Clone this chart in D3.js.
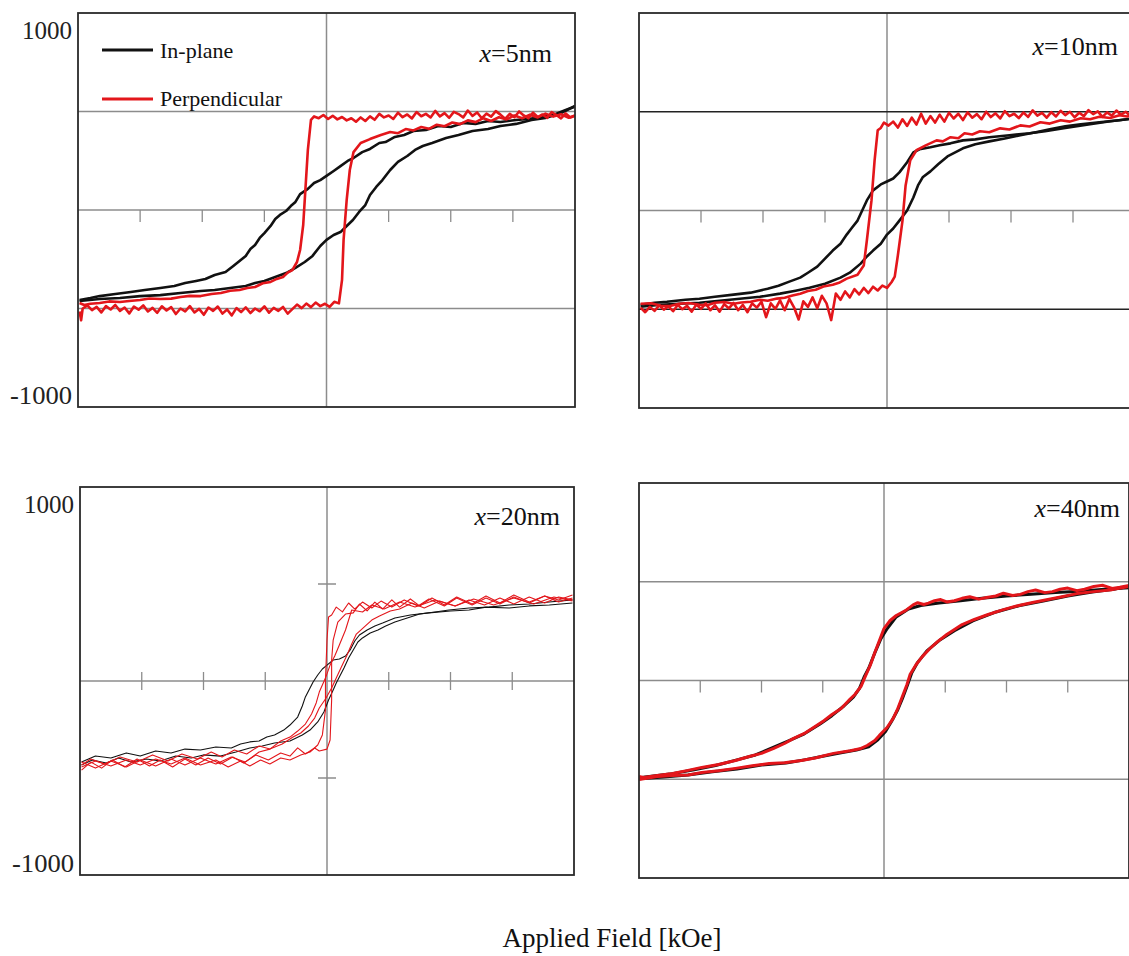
<!DOCTYPE html>
<html><head><meta charset="utf-8">
<script src="https://cdn.jsdelivr.net/npm/d3@7/dist/d3.min.js"></script>
<style>body{margin:0;background:#fff}svg{display:block}</style>
</head><body><svg id="c" width="1129" height="956"></svg>
<script>
// ---------- labels / ticks ----------
const panelLabels = ["=5nm", "=10nm", "=20nm", "=40nm"];
const yTickLabels = ["1000", "-1000"];
const legendLabels = ["In-plane", "Perpendicular"];
const xAxisTitle = "Applied Field [kOe]";
const xMinorTicks = [-6, -4, -2, 2, 4, 6];
const yGuides = [-500, 500];
const xDomain = [-8, 8];
const yDomain = [-1000, 1000];

// ---------- x = 5 nm ----------
const p1InDown = [[8.0,525],[7.7,508],[7.3,482],[6.9,472],[6.5,462],[6.1,457],[5.6,447],[5.2,452],[4.8,437],[4.4,442],[4.0,421],[3.6,426],[3.2,406],[2.8,401],[2.5,381],[2.2,371],[1.9,345],[1.7,340],[1.4,310],[1.15,294],[0.87,264],[0.68,249],[0.45,223],[0.23,198],[0,173],[-0.2,152],[-0.4,137],[-0.6,107],[-0.85,81],[-1.0,41],[-1.15,20],[-1.3,-5],[-1.5,-25],[-1.65,-46],[-1.8,-81],[-2.0,-117],[-2.15,-142],[-2.3,-178],[-2.45,-198],[-2.6,-233],[-2.8,-259],[-3.0,-284],[-3.25,-315],[-3.6,-330],[-3.9,-350],[-4.2,-360],[-4.55,-371],[-4.9,-386],[-5.35,-396],[-5.85,-406],[-6.3,-416],[-6.8,-426],[-7.3,-437],[-7.6,-447],[-7.95,-457]];
const p1InUp = [[-7.95,-462],[-7.3,-452],[-6.65,-447],[-6.0,-437],[-5.35,-432],[-4.7,-421],[-4.05,-411],[-3.6,-406],[-3.1,-396],[-2.6,-386],[-2.3,-371],[-2.0,-360],[-1.65,-340],[-1.3,-320],[-1.0,-294],[-0.7,-264],[-0.45,-233],[-0.2,-183],[0,-152],[0.23,-127],[0.45,-112],[0.65,-81],[0.85,-51],[1.05,-10],[1.25,25],[1.4,76],[1.6,117],[1.8,152],[2.05,203],[2.3,244],[2.6,274],[2.85,305],[3.1,325],[3.4,340],[3.85,365],[4.25,381],[4.7,401],[5.2,411],[5.6,426],[6.1,437],[6.6,457],[7.05,467],[7.55,492],[8.0,528]];
const p1PerpDown = [[8.0,478],[7.85,470],[7.7,490],[7.55,465],[7.4,482],[7.25,497],[7.1,468],[6.95,485],[6.8,472],[6.65,494],[6.5,466],[6.35,480],[6.2,500],[6.05,471],[5.9,488],[5.75,463],[5.6,484],[5.45,502],[5.3,474],[5.15,489],[5.0,466],[4.85,495],[4.7,478],[4.55,505],[4.4,470],[4.25,487],[4.1,498],[3.95,468],[3.8,492],[3.65,475],[3.5,503],[3.35,470],[3.2,488],[3.05,476],[2.9,497],[2.75,465],[2.6,485],[2.45,471],[2.3,494],[2.15,462],[2.0,480],[1.85,470],[1.7,488],[1.55,458],[1.4,475],[1.25,452],[1.1,470],[0.95,448],[0.8,466],[0.65,455],[0.5,472],[0.35,460],[0.2,478],[0.05,462],[-0.1,482],[-0.25,466],[-0.4,475],[-0.5,458],[-0.6,305],[-0.68,102],[-0.75,-76],[-0.85,-203],[-0.95,-264],[-1.1,-305],[-1.25,-318],[-1.4,-340],[-1.6,-350],[-1.8,-365],[-2.05,-372],[-2.3,-391],[-2.55,-396],[-2.8,-406],[-3.1,-410],[-3.4,-421],[-3.7,-426],[-4.05,-437],[-4.4,-436],[-4.7,-442],[-5.0,-450],[-5.35,-452],[-5.7,-449],[-6.0,-457],[-6.35,-462],[-6.65,-467],[-7.0,-464],[-7.3,-472],[-7.6,-476],[-7.8,-482],[-7.95,-472]];
const p1PerpUp = [[-7.95,-515],[-7.9,-560],[-7.85,-500],[-7.7,-485],[-7.55,-508],[-7.4,-492],[-7.25,-520],[-7.1,-488],[-6.95,-505],[-6.8,-482],[-6.65,-512],[-6.5,-495],[-6.35,-525],[-6.2,-490],[-6.05,-506],[-5.9,-484],[-5.75,-515],[-5.6,-497],[-5.45,-522],[-5.3,-489],[-5.15,-510],[-5.0,-493],[-4.85,-528],[-4.7,-500],[-4.55,-515],[-4.4,-488],[-4.25,-520],[-4.1,-502],[-3.95,-532],[-3.8,-495],[-3.65,-512],[-3.5,-490],[-3.35,-526],[-3.2,-505],[-3.05,-535],[-2.9,-498],[-2.75,-518],[-2.6,-494],[-2.45,-523],[-2.3,-500],[-2.15,-514],[-2.0,-489],[-1.85,-521],[-1.7,-497],[-1.55,-512],[-1.4,-492],[-1.25,-526],[-1.1,-503],[-0.95,-480],[-0.8,-498],[-0.65,-475],[-0.5,-493],[-0.35,-470],[-0.2,-488],[-0.05,-476],[0.1,-492],[0.25,-466],[0.4,-474],[0.5,-355],[0.55,-152],[0.65,51],[0.75,203],[0.87,294],[1.1,340],[1.4,360],[1.75,381],[2.05,396],[2.3,390],[2.55,411],[2.8,404],[3.05,421],[3.3,412],[3.55,433],[3.8,425],[4.05,444],[4.3,436],[4.55,455],[4.8,446],[5.05,466],[5.3,452],[5.55,471],[5.8,460],[6.05,480],[6.3,466],[6.55,484],[6.8,470],[7.05,489],[7.3,474],[7.55,486],[7.8,468],[8.0,480]];

// ---------- x = 10 nm ----------
const p2InDown = [[8.0,467],[7.2,452],[6.55,437],[5.7,416],[5.1,401],[4.6,391],[3.95,381],[3.3,371],[2.85,360],[2.45,355],[2.05,340],[1.7,330],[1.4,320],[1.05,310],[0.85,294],[0.65,244],[0.4,193],[0.2,162],[0,147],[-0.2,132],[-0.45,102],[-0.65,51],[-0.8,0],[-0.95,-51],[-1.15,-91],[-1.3,-122],[-1.5,-168],[-1.75,-203],[-2.0,-244],[-2.25,-284],[-2.55,-315],[-2.8,-340],[-3.15,-360],[-3.5,-381],[-3.85,-396],[-4.4,-416],[-4.95,-426],[-5.55,-437],[-6.05,-447],[-6.5,-452],[-7.1,-462],[-7.5,-467],[-7.95,-477]];
const p2InUp = [[-7.95,-487],[-7.3,-477],[-6.7,-472],[-6.05,-467],[-5.4,-457],[-4.75,-447],[-4.1,-437],[-3.45,-421],[-2.95,-406],[-2.5,-391],[-2.0,-371],[-1.5,-340],[-1.2,-315],[-0.85,-269],[-0.65,-233],[-0.45,-203],[-0.2,-168],[0,-122],[0.2,-91],[0.4,-51],[0.65,0],[0.85,66],[1.0,127],[1.15,168],[1.4,198],[1.65,234],[1.95,274],[2.2,294],[2.45,315],[2.85,335],[3.3,350],[3.8,365],[4.3,381],[4.8,396],[5.25,411],[5.75,426],[6.25,437],[6.85,447],[7.5,457],[8.0,467]];
const p2PerpDown = [[8.0,492],[7.85,478],[7.7,500],[7.55,485],[7.4,506],[7.25,480],[7.1,497],[6.95,474],[6.8,502],[6.65,488],[6.5,508],[6.35,478],[6.2,495],[6.05,472],[5.9,500],[5.75,483],[5.6,505],[5.45,476],[5.3,498],[5.15,470],[5.0,494],[4.85,480],[4.7,507],[4.55,474],[4.4,496],[4.25,468],[4.1,490],[3.95,478],[3.8,503],[3.65,466],[3.5,492],[3.35,473],[3.2,500],[3.05,462],[2.9,488],[2.75,470],[2.6,497],[2.45,458],[2.3,490],[2.15,466],[2.0,495],[1.85,450],[1.7,485],[1.55,445],[1.4,478],[1.25,440],[1.1,490],[0.95,435],[0.8,470],[0.65,428],[0.5,462],[0.35,420],[0.2,450],[0.05,430],[-0.1,445],[-0.2,418],[-0.3,406],[-0.4,254],[-0.5,51],[-0.65,-152],[-0.75,-279],[-0.95,-325],[-1.3,-345],[-1.55,-366],[-1.75,-376],[-2.05,-385],[-2.3,-401],[-2.55,-408],[-2.8,-421],[-3.05,-430],[-3.3,-442],[-3.55,-446],[-3.85,-457],[-4.1,-452],[-4.4,-462],[-4.7,-466],[-4.95,-472],[-5.25,-463],[-5.55,-467],[-5.8,-480],[-6.05,-477],[-6.4,-468],[-6.7,-472],[-7.0,-484],[-7.3,-482],[-7.6,-470],[-7.95,-472]];
const p2PerpUp = [[-7.95,-492],[-7.8,-515],[-7.65,-488],[-7.5,-508],[-7.35,-480],[-7.2,-502],[-7.05,-485],[-6.9,-510],[-6.75,-478],[-6.6,-500],[-6.45,-483],[-6.3,-512],[-6.15,-476],[-6.0,-498],[-5.85,-470],[-5.7,-505],[-5.55,-480],[-5.4,-512],[-5.25,-474],[-5.1,-496],[-4.95,-468],[-4.8,-505],[-4.65,-478],[-4.5,-515],[-4.35,-470],[-4.2,-492],[-4.05,-462],[-3.9,-540],[-3.75,-470],[-3.6,-498],[-3.45,-455],[-3.3,-505],[-3.15,-448],[-3.0,-490],[-2.85,-552],[-2.7,-460],[-2.55,-488],[-2.4,-440],[-2.25,-495],[-2.1,-432],[-1.95,-470],[-1.8,-555],[-1.65,-420],[-1.5,-452],[-1.35,-410],[-1.2,-440],[-1.05,-398],[-0.9,-425],[-0.75,-392],[-0.6,-418],[-0.45,-386],[-0.3,-405],[-0.15,-380],[0,-392],[0.15,-362],[0.25,-335],[0.35,-228],[0.5,-51],[0.6,127],[0.75,254],[0.95,305],[1.25,330],[1.6,355],[1.8,350],[2.05,371],[2.3,366],[2.5,391],[2.75,385],[3.0,401],[3.3,396],[3.65,416],[3.95,410],[4.3,431],[4.6,425],[4.95,447],[5.25,440],[5.6,457],[5.9,450],[6.25,467],[6.55,462],[6.85,475],[7.2,468],[7.5,482],[7.75,476],[8.0,487]];

// ---------- x = 20 nm ----------
const p3InDown = [[7.95,402],[7.2,392],[6.55,387],[5.9,376],[5.15,381],[4.6,366],[4.0,361],[3.3,351],[2.7,340],[2.2,325],[1.8,299],[1.55,284],[1.3,263],[1.05,237],[0.9,206],[0.75,160],[0.6,129],[0.4,113],[0.2,108],[0,82],[-0.15,62],[-0.3,31],[-0.45,-5],[-0.55,-36],[-0.7,-82],[-0.8,-129],[-0.95,-186],[-1.2,-227],[-1.4,-253],[-1.7,-278],[-1.95,-289],[-2.2,-309],[-2.5,-314],[-2.8,-325],[-3.1,-345],[-3.6,-340],[-4.1,-356],[-4.6,-351],[-5.05,-371],[-5.55,-361],[-6.05,-387],[-6.5,-371],[-7.0,-397],[-7.5,-387],[-7.95,-418]];
const p3InUp = [[-7.95,-433],[-7.6,-407],[-7.15,-423],[-6.75,-397],[-6.35,-418],[-5.85,-402],[-5.4,-412],[-4.9,-387],[-4.4,-397],[-4.0,-381],[-3.45,-387],[-2.95,-366],[-2.5,-345],[-2.1,-335],[-1.7,-320],[-1.2,-309],[-0.8,-278],[-0.55,-253],[-0.3,-211],[-0.1,-160],[0.05,-98],[0.2,-46],[0.3,-10],[0.4,21],[0.55,67],[0.7,119],[0.85,160],[1.0,201],[1.15,222],[1.4,247],[1.65,263],[1.9,284],[2.2,304],[2.6,325],[3.0,345],[3.5,356],[3.95,366],[4.6,376],[5.25,381],[5.9,392],[6.55,397],[7.2,407],[7.95,418]];
const p3PerpADown = [[7.95,428],[7.5,407],[7.05,438],[6.55,402],[6.05,433],[5.6,397],[5.15,428],[4.7,392],[4.2,428],[3.8,387],[3.3,423],[2.95,387],[2.5,418],[2.1,381],[1.75,412],[1.45,376],[1.15,407],[0.9,371],[0.7,402],[0.5,356],[0.3,381],[0.15,340],[0.05,330],[0,211],[-0.05,5],[-0.05,-150],[-0.15,-278],[-0.3,-330],[-0.55,-366],[-0.85,-381],[-1.2,-407],[-1.5,-397],[-1.85,-428],[-2.15,-407],[-2.5,-438],[-2.8,-412],[-3.2,-443],[-3.6,-407],[-4.1,-433],[-4.6,-397],[-5.05,-428],[-5.55,-402],[-6.05,-433],[-6.5,-407],[-7.0,-438],[-7.5,-412],[-7.95,-443]];
const p3PerpAUp = [[-7.95,-459],[-7.65,-418],[-7.3,-449],[-6.95,-407],[-6.55,-443],[-6.15,-402],[-5.75,-438],[-5.4,-407],[-5.0,-443],[-4.6,-402],[-4.25,-433],[-3.85,-397],[-3.45,-428],[-3.05,-392],[-2.7,-423],[-2.3,-381],[-1.9,-407],[-1.5,-371],[-1.2,-387],[-0.95,-345],[-0.7,-376],[-0.4,-345],[-0.25,-361],[0,-351],[0.1,-304],[0.15,-98],[0.15,108],[0.2,211],[0.35,304],[0.6,345],[0.85,351],[1.05,397],[1.3,361],[1.55,407],[1.8,371],[2.1,418],[2.35,381],[2.7,423],[3.0,387],[3.4,428],[3.8,392],[4.2,433],[4.7,397],[5.15,438],[5.6,402],[6.05,443],[6.55,407],[7.05,438],[7.5,418],[7.95,443]];
const p3PerpBDown = [[7.95,412],[7.35,433],[6.7,397],[6.05,428],[5.4,392],[4.75,423],[4.15,387],[3.5,418],[2.85,381],[2.35,407],[1.85,371],[1.45,392],[1.15,356],[0.8,366],[0.6,263],[0.4,186],[0.25,129],[0.1,82],[-0.05,15],[-0.25,-57],[-0.35,-113],[-0.5,-170],[-0.7,-222],[-0.95,-258],[-1.2,-289],[-1.5,-309],[-1.85,-351],[-2.2,-335],[-2.6,-376],[-3.0,-356],[-3.4,-392],[-3.75,-366],[-4.2,-402],[-4.7,-376],[-5.15,-412],[-5.65,-381],[-6.15,-418],[-6.7,-392],[-7.2,-428],[-7.65,-402],[-7.95,-433]];
const p3PerpBUp = [[-7.95,-418],[-7.5,-449],[-7.0,-412],[-6.5,-443],[-6.05,-407],[-5.55,-438],[-5.05,-402],[-4.6,-433],[-4.1,-397],[-3.6,-428],[-3.1,-392],[-2.65,-418],[-2.2,-366],[-1.85,-351],[-1.45,-325],[-1.1,-289],[-0.85,-268],[-0.6,-232],[-0.4,-191],[-0.25,-139],[-0.05,-93],[0.15,-36],[0.3,15],[0.45,67],[0.65,134],[0.8,191],[0.95,242],[1.2,278],[1.45,314],[1.7,335],[2.05,361],[2.35,371],[2.75,402],[3.15,376],[3.65,412],[4.15,387],[4.6,418],[5.1,392],[5.6,428],[6.05,397],[6.55,433],[7.05,402],[7.5,433],[7.95,418]];

// ---------- x = 40 nm ----------
const p4InDown = [[8.0,470],[7.2,462],[6.4,452],[5.6,445],[4.8,437],[4.0,428],[3.2,417],[2.5,404],[1.8,392],[1.2,380],[0.8,362],[0.4,322],[0.1,262],[-0.1,212],[-0.3,140],[-0.5,62],[-0.65,18],[-0.8,-40],[-1.0,-84],[-1.3,-128],[-1.7,-178],[-2.1,-222],[-2.6,-270],[-3.1,-305],[-3.6,-338],[-4.2,-377],[-4.8,-402],[-5.5,-430],[-6.2,-452],[-7.0,-474],[-7.8,-488],[-8.0,-494]];
const p4InUp = [[-8.0,-498],[-7.2,-488],[-6.4,-478],[-5.6,-462],[-4.8,-448],[-4.0,-428],[-3.2,-418],[-2.6,-402],[-2.0,-384],[-1.4,-366],[-0.9,-352],[-0.5,-336],[-0.2,-300],[0.05,-258],[0.25,-206],[0.45,-148],[0.6,-92],[0.75,-30],[0.9,36],[1.1,92],[1.4,150],[1.8,202],[2.3,252],[2.9,302],[3.6,344],[4.4,378],[5.2,402],[6.0,428],[6.8,448],[7.5,462],[8.0,478]];
const p4PerpDown = [[8.0,481],[7.7,472],[7.45,466],[7.15,482],[6.85,476],[6.55,462],[6.3,455],[6.0,468],[5.75,462],[5.5,450],[5.25,445],[4.95,458],[4.7,450],[4.45,436],[4.2,430],[3.9,442],[3.65,428],[3.35,420],[3.1,412],[2.8,424],[2.55,416],[2.3,404],[2.05,398],[1.85,410],[1.65,404],[1.45,392],[1.3,385],[1.1,394],[0.95,383],[0.7,354],[0.4,329],[0.2,304],[0,263],[-0.15,202],[-0.3,142],[-0.45,76],[-0.6,25],[-0.75,-30],[-0.95,-71],[-1.15,-101],[-1.4,-142],[-1.7,-172],[-1.95,-202],[-2.3,-238],[-2.6,-268],[-2.95,-293],[-3.25,-319],[-3.6,-344],[-4.0,-369],[-4.4,-385],[-4.85,-405],[-5.4,-425],[-5.95,-440],[-6.4,-455],[-6.9,-471],[-7.4,-481],[-7.85,-491],[-8.0,-486]];
const p4PerpUp = [[-8.0,-502],[-7.4,-486],[-6.9,-481],[-6.4,-478],[-5.95,-466],[-5.4,-457],[-4.85,-445],[-4.3,-432],[-3.75,-420],[-3.25,-417],[-2.7,-405],[-2.25,-392],[-1.65,-369],[-1.1,-356],[-0.75,-344],[-0.55,-329],[-0.3,-304],[-0.15,-278],[0.1,-238],[0.3,-192],[0.45,-142],[0.6,-81],[0.75,-20],[0.85,30],[1.05,81],[1.25,121],[1.5,162],[1.75,197],[2.05,233],[2.3,258],[2.55,283],[2.95,309],[3.4,334],[3.9,359],[4.4,380],[4.85,395],[5.35,410],[5.85,425],[6.3,440],[6.85,450],[7.45,460],[8.0,476]];

// ---------- layout ----------
const svg = d3.select("#c");
const serif = "'Liberation Serif','Times New Roman',serif";
const BLACK = "#111", RED = "#e3161b";

const panels = [
  {l:78,  r:575,  t:13,  b:407, lw:2.6, guideColor:"#8c8c8c", full:true,  tickMode:"down",  label:panelLabels[0], lx:552,  ly:62,
   series:[[p1InDown,BLACK],[p1InUp,BLACK],[p1PerpDown,RED],[p1PerpUp,RED]], yLabels:true},
  {l:639, r:1135, t:13,  b:408, lw:2.6, guideColor:"#222",    full:true,  tickMode:"down",  label:panelLabels[1], lx:1118, ly:55,
   series:[[p2InDown,BLACK],[p2InUp,BLACK],[p2PerpDown,RED],[p2PerpUp,RED]], yLabels:false},
  {l:80,  r:574,  t:487, b:875, lw:1.1, guideColor:"#8c8c8c", full:false, tickMode:"cross", label:panelLabels[2], lx:560,  ly:525,
   series:[[p3InDown,BLACK],[p3InUp,BLACK],[p3PerpADown,RED],[p3PerpAUp,RED],[p3PerpBDown,RED],[p3PerpBUp,RED]], yLabels:true},
  {l:639, r:1129, t:483, b:878, lw:3.0, guideColor:"#8c8c8c", full:true,  tickMode:"down",  label:panelLabels[3], lx:1120, ly:517,
   series:[[p4InDown,BLACK],[p4InUp,BLACK],[p4PerpDown,RED],[p4PerpUp,RED]], yLabels:false}
];

panels.forEach((p, i) => {
  const x = d3.scaleLinear().domain(xDomain).range([p.l, p.r]);
  const y = d3.scaleLinear().domain(yDomain).range([p.b, p.t]);
  const g = svg.append("g");
  const cid = "clip" + i;
  g.append("clipPath").attr("id", cid).append("rect")
    .attr("x", p.l).attr("y", p.t).attr("width", p.r - p.l).attr("height", p.b - p.t);

  g.append("line").attr("x1", x(0)).attr("x2", x(0)).attr("y1", p.t).attr("y2", p.b)
    .attr("stroke", "#8c8c8c").attr("stroke-width", 1.5);
  g.append("line").attr("x1", p.l).attr("x2", p.r).attr("y1", y(0)).attr("y2", y(0))
    .attr("stroke", "#8c8c8c").attr("stroke-width", 1.5);

  if (p.full) {
    g.selectAll(".gd").data(yGuides).enter().append("line")
      .attr("x1", p.l).attr("x2", p.r).attr("y1", d => y(d)).attr("y2", d => y(d))
      .attr("stroke", p.guideColor).attr("stroke-width", 1.5);
  } else {
    g.selectAll(".gd").data(yGuides).enter().append("line")
      .attr("x1", x(0) - 9).attr("x2", x(0) + 9).attr("y1", d => y(d)).attr("y2", d => y(d))
      .attr("stroke", "#8c8c8c").attr("stroke-width", 1.5);
  }

  g.selectAll(".tk").data(xMinorTicks).enter().append("line")
    .attr("x1", d => x(d)).attr("x2", d => x(d))
    .attr("y1", p.tickMode === "cross" ? y(0) - 9 : y(0))
    .attr("y2", y(0) + (p.tickMode === "cross" ? 9 : 12))
    .attr("stroke", "#8c8c8c").attr("stroke-width", 1.3);

  const line = d3.line().x(d => x(d[0])).y(d => y(d[1]));
  const cg = g.append("g").attr("clip-path", `url(#${cid})`);
  p.series.forEach(([data, col]) => {
    cg.append("path").attr("d", line(data)).attr("fill", "none")
      .attr("stroke", col).attr("stroke-width", p.lw).attr("stroke-linejoin", "round");
  });

  g.append("rect").attr("x", p.l).attr("y", p.t).attr("width", p.r - p.l).attr("height", p.b - p.t)
    .attr("fill", "none").attr("stroke", "#2a2a2a").attr("stroke-width", 1.8);

  const t = g.append("text").attr("x", p.lx).attr("y", p.ly).attr("text-anchor", "end")
    .attr("font-family", serif).attr("font-size", 26).attr("fill", "#111");
  t.append("tspan").attr("font-style", "italic").text("x");
  t.append("tspan").text(p.label);

  if (p.yLabels) {
    g.append("text").attr("x", p.l - 6).attr("y", y(yDomain[1]) + 17).attr("dy", "0.35em")
      .attr("text-anchor", "end").attr("font-family", serif).attr("font-size", 26)
      .attr("textLength", 50).attr("lengthAdjust", "spacingAndGlyphs").attr("fill", "#222").text(yTickLabels[0]);
    g.append("text").attr("x", p.l - 6).attr("y", y(yDomain[0]) - 12).attr("dy", "0.35em")
      .attr("text-anchor", "end").attr("font-family", serif).attr("font-size", 26)
      .attr("textLength", 62).attr("lengthAdjust", "spacingAndGlyphs").attr("fill", "#222").text(yTickLabels[1]);
  }

  if (i === 0) {
    const lg = g.append("g");
    [[BLACK, 50, 58], [RED, 99, 106]].forEach(([c, ly, tb], k) => {
      lg.append("line").attr("x1", 102).attr("x2", 153).attr("y1", ly).attr("y2", ly)
        .attr("stroke", c).attr("stroke-width", 3);
      lg.append("text").attr("x", 160).attr("y", tb).attr("font-family", serif)
        .attr("font-size", 22).attr("fill", "#111").text(legendLabels[k]);
    });
  }
});

svg.append("text").attr("x", 612).attr("y", 947).attr("text-anchor", "middle")
  .attr("font-family", serif).attr("font-size", 27).attr("fill", "#111").text(xAxisTitle);
</script>
</body></html>
